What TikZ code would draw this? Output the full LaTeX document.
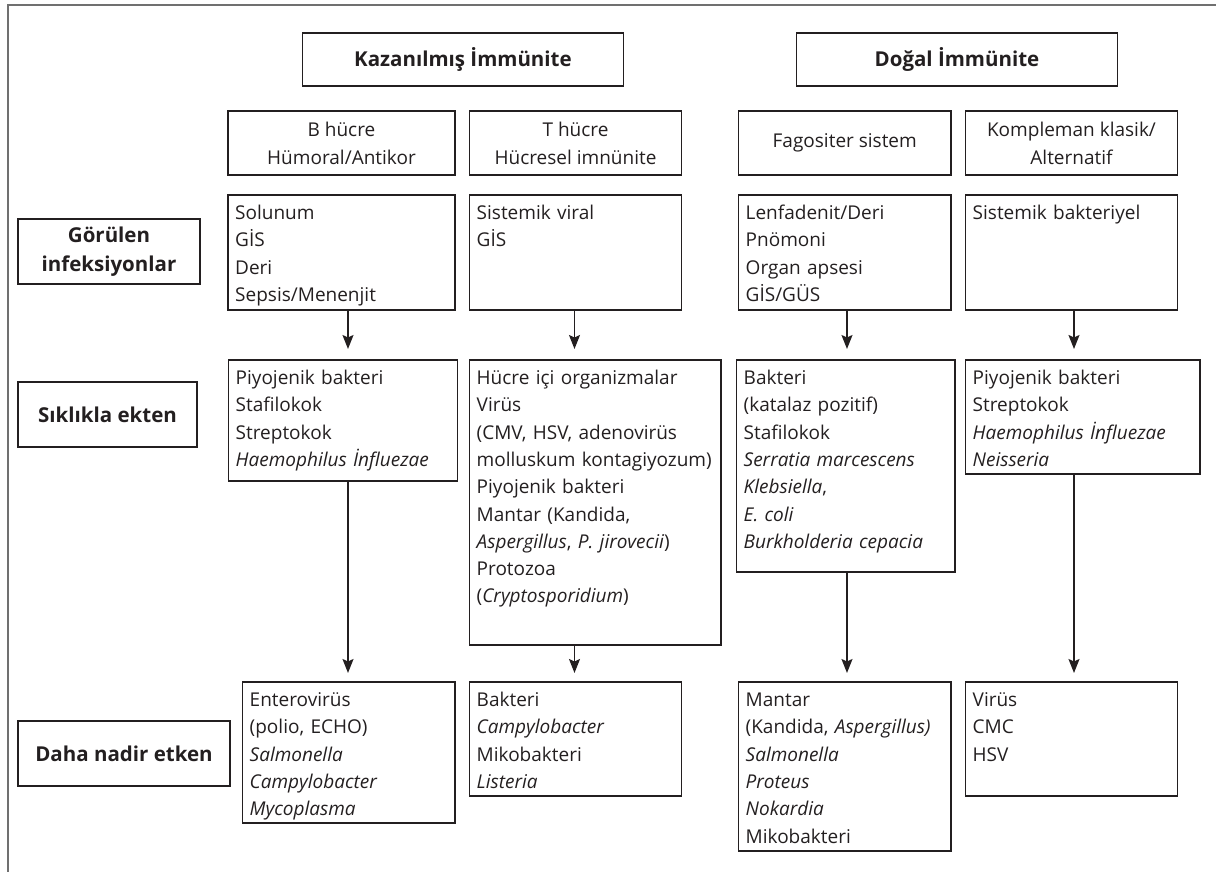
\documentclass[tikz,border=0pt]{standalone}
\usepackage{fontspec}
\setmainfont{Open Sans}
\usetikzlibrary{arrows.meta}
\definecolor{ink}{HTML}{231F20}
\definecolor{framec}{HTML}{707070}
\tikzset{
  box/.style={draw=ink, line width=1.6pt, inner sep=0pt, outer sep=0pt, anchor=north west},
  body/.style={text=ink, font=\fontsize{19}{27.3}\selectfont, text width=300pt, align=left, inner sep=0pt, anchor=base west},
  head/.style={box, text=ink, font=\fontsize{19}{28}\selectfont, align=center},
  lab/.style={box, text=ink, font=\bfseries\fontsize{20.5}{28.5}\selectfont, align=center},
  arr/.style={draw=ink, line width=1.5pt, -{Stealth[length=14pt,width=11pt,inset=2.5pt]}},
  frameline/.style={draw=framec, line width=2pt},
}
\newcommand\mkbox[6][box]{\node[#1, minimum width={#5pt-#3pt}, minimum height={#6pt-#4pt}] (#2) at (#3,#4) {};}
\newcommand\bodytext[2]{\node[body] (t#1) at ([shift={(7pt,-24.5pt)}]#1.north west) {#2};}
\begin{document}
\begin{tikzpicture}[x=1pt,y=-1pt]
\useasboundingbox (0,0) rectangle (1216,872);
\coordinate (fb) at (8,872);
\coordinate (fc) at (8,5.5);
\coordinate (fr) at (1216,5.5);
\draw[frameline] (fb) -- (fc) -- (fr);

% titles
\node[lab, minimum width=321pt, minimum height=53pt] (kaz) at (302.5,33) {Kazanılmış İmmünite};
\node[lab, minimum width=321pt, minimum height=53pt] (dog) at (796.5,33) {Doğal İmmünite};

% column headers
\node[head, minimum width=227pt, minimum height=64pt] (hb) at (228,111) {B hücre\\Hümoral/Antikor};
\node[head, minimum width=212pt, minimum height=64pt] (ht) at (469.5,111) {T hücre\\Hücresel imnünite};
\node[head, minimum width=212.5pt, minimum height=64pt] (hf) at (738.5,111) {Fagositer sistem};
\node[head, minimum width=212pt, minimum height=64pt] (hk) at (965.5,111) {Kompleman klasik/\\Alternatif};

% row labels
\node[lab, minimum width=182pt, minimum height=65pt] (lg) at (18,219) {Görülen\\infeksiyonlar};
\node[lab, minimum width=179pt, minimum height=65pt] (ls) at (18,382) {Sıklıkla ekten};
\node[lab, minimum width=212pt, minimum height=65pt] (ld) at (18,721) {Daha nadir etken};

% row 2
\mkbox{b2}{228}{195}{455}{310}
\mkbox{t2}{469.5}{195}{681.5}{310}
\mkbox{f2}{738.5}{195}{951}{310}
\mkbox{k2}{965.5}{195}{1177.5}{310}
\bodytext{b2}{Solunum\\GİS\\Deri\\Sepsis/Menenjit}
\bodytext{t2}{Sistemik viral\\GİS}
\bodytext{f2}{Lenfadenit/Deri\\Pnömoni\\Organ apsesi\\GİS/GÜS}
\bodytext{k2}{Sistemik bakteriyel}

% row 3
\mkbox{b3}{228.5}{360}{457.5}{481}
\mkbox{t3}{469.5}{360}{721}{645}
\mkbox{f3}{736.5}{360}{955}{572}
\mkbox{k3}{965.5}{360}{1200}{474}
\bodytext{b3}{Piyojenik bakteri\\Stafilokok\\Streptokok\\\textit{Haemophilus İnfluezae}}
\bodytext{t3}{Hücre içi organizmalar\\Virüs\\(CMV, HSV, adenovirüs\\molluskum kontagiyozum)\\Piyojenik bakteri\\Mantar (Kandida,\\\textit{Aspergillus}, \textit{P. jirovecii})\\Protozoa\\(\textit{Cryptosporidium})}
\bodytext{f3}{Bakteri\\(katalaz pozitif)\\Stafilokok\\\textit{Serratia marcescens}\\\textit{Klebsiella},\\\textit{E. coli}\\\textit{Burkholderia cepacia}}
\bodytext{k3}{Piyojenik bakteri\\Streptokok\\\textit{Haemophilus İnfluezae}\\\textit{Neisseria}}

% row 4
\mkbox{b4}{242.5}{682}{455}{823}
\mkbox{t4}{469.5}{682}{681.5}{796}
\mkbox{f4}{738.5}{682}{951}{851}
\mkbox{k4}{965.5}{682}{1177.5}{796}
\bodytext{b4}{Enterovirüs\\(polio, ECHO)\\\textit{Salmonella}\\\textit{Campylobacter}\\\textit{Mycoplasma}}
\bodytext{t4}{Bakteri\\\textit{Campylobacter}\\Mikobakteri\\\textit{Listeria}}
\bodytext{f4}{Mantar\\(Kandida, \textit{Aspergillus)}\\\textit{Salmonella}\\\textit{Proteus}\\\textit{Nokardia}\\Mikobakteri}
\bodytext{k4}{Virüs\\CMC\\HSV}

% arrow columns
\coordinate (xb) at (348,0);
\coordinate (xt) at (574.5,0);
\coordinate (xf) at (847,0);
\coordinate (xk) at (1074,0);
\draw[arr, shorten >=11pt] (b2.south -| xb) -- (b3.north -| xb);
\draw[arr, shorten >=11pt] (t2.south -| xt) -- (t3.north -| xt);
\draw[arr, shorten >=11pt] (f2.south -| xf) -- (f3.north -| xf);
\draw[arr, shorten >=11pt] (k2.south -| xk) -- (k3.north -| xk);
\draw[arr, shorten >=9pt] (b3.south -| xb) -- (b4.north -| xb);
\draw[arr, shorten >=9pt] (t3.south -| xt) -- (t4.north -| xt);
\draw[arr, shorten >=9pt] (f3.south -| xf) -- (f4.north -| xf);
\draw[arr, shorten >=9pt] (k3.south -| xk) -- (k4.north -| xk);
\end{tikzpicture}
\end{document}
